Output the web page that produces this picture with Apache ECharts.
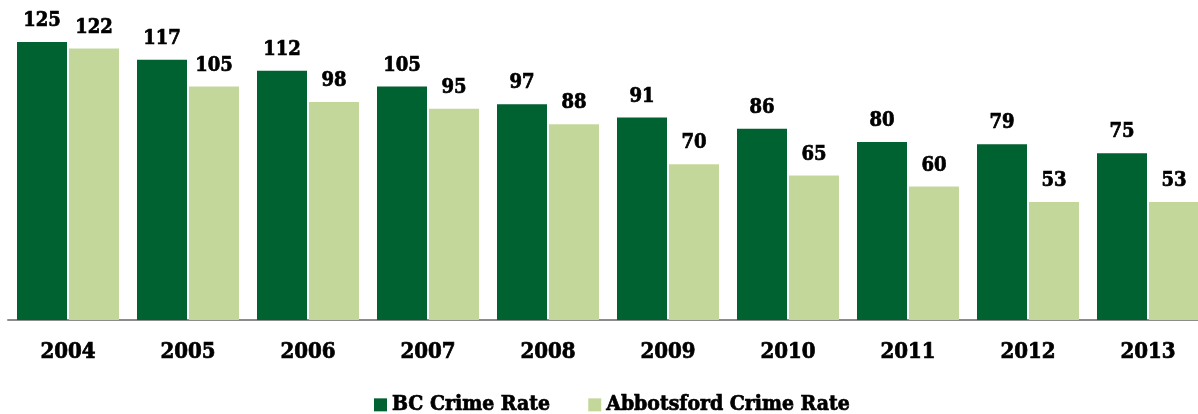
<!DOCTYPE html>
<html>
<head>
<meta charset="utf-8">
<script src="https://cdn.jsdelivr.net/npm/echarts@6/dist/echarts.min.js"></script>
<style>
  html, body { margin: 0; padding: 0; background: #ffffff; }
  #chart { width: 1198px; height: 414px; }
</style>
</head>
<body>
<div id="chart"></div>
<script>
// Crime rate per year, BC vs Abbotsford
const years = ['2004', '2005', '2006', '2007', '2008', '2009', '2010', '2011', '2012', '2013'];
const bcCrimeRate = [125, 117, 112, 105, 97, 91, 86, 80, 79, 75];
const abbotsfordCrimeRate = [122, 105, 98, 95, 88, 70, 65, 60, 53, 53];

const FONT = '"DejaVu Serif Condensed", "DejaVu Serif", serif';
const DARK = '#006131';
const LIGHT = '#c4d79b';

// heavy bold text: a thin outline in the text colour thickens the strokes
const heavy = { fontFamily: FONT, fontWeight: 'bold', color: '#000000', textBorderColor: '#000000', textBorderWidth: 0.7 };

const labelStyle = Object.assign({
  show: true,
  position: 'top',
  distance: 11,
  fontSize: 20
}, heavy);

const chart = echarts.init(document.getElementById('chart'), null, { renderer: 'canvas' });
chart.setOption({
  animation: false,
  backgroundColor: '#ffffff',
  grid: {
    left: 8, right: -10, top: 8.5, bottom: 94,
    containLabel: false,
    outerBoundsMode: 'none'
  },
  legend: {
    left: 369,
    top: 389,
    itemWidth: 13,
    itemHeight: 13,
    itemGap: 38,
    icon: 'rect',
    textStyle: Object.assign({ fontSize: 21 }, heavy),
    data: ['BC Crime Rate', 'Abbotsford Crime Rate']
  },
  xAxis: {
    type: 'category',
    data: years,
    axisTick: { show: false },
    axisLine: { show: true, lineStyle: { color: '#8c8c8c', width: 2 } },
    axisLabel: Object.assign({ margin: 21, fontSize: 22 }, heavy)
  },
  yAxis: {
    type: 'value',
    min: 0,
    max: 140,
    show: false,
    splitLine: { show: false }
  },
  series: [
    {
      name: 'BC Crime Rate',
      type: 'bar',
      data: bcCrimeRate,
      barWidth: 50,
      barGap: '4%',
      itemStyle: { color: DARK },
      label: labelStyle
    },
    {
      name: 'Abbotsford Crime Rate',
      type: 'bar',
      data: abbotsfordCrimeRate,
      barWidth: 50,
      itemStyle: { color: LIGHT },
      label: labelStyle
    }
  ]
});
</script>
</body>
</html>
